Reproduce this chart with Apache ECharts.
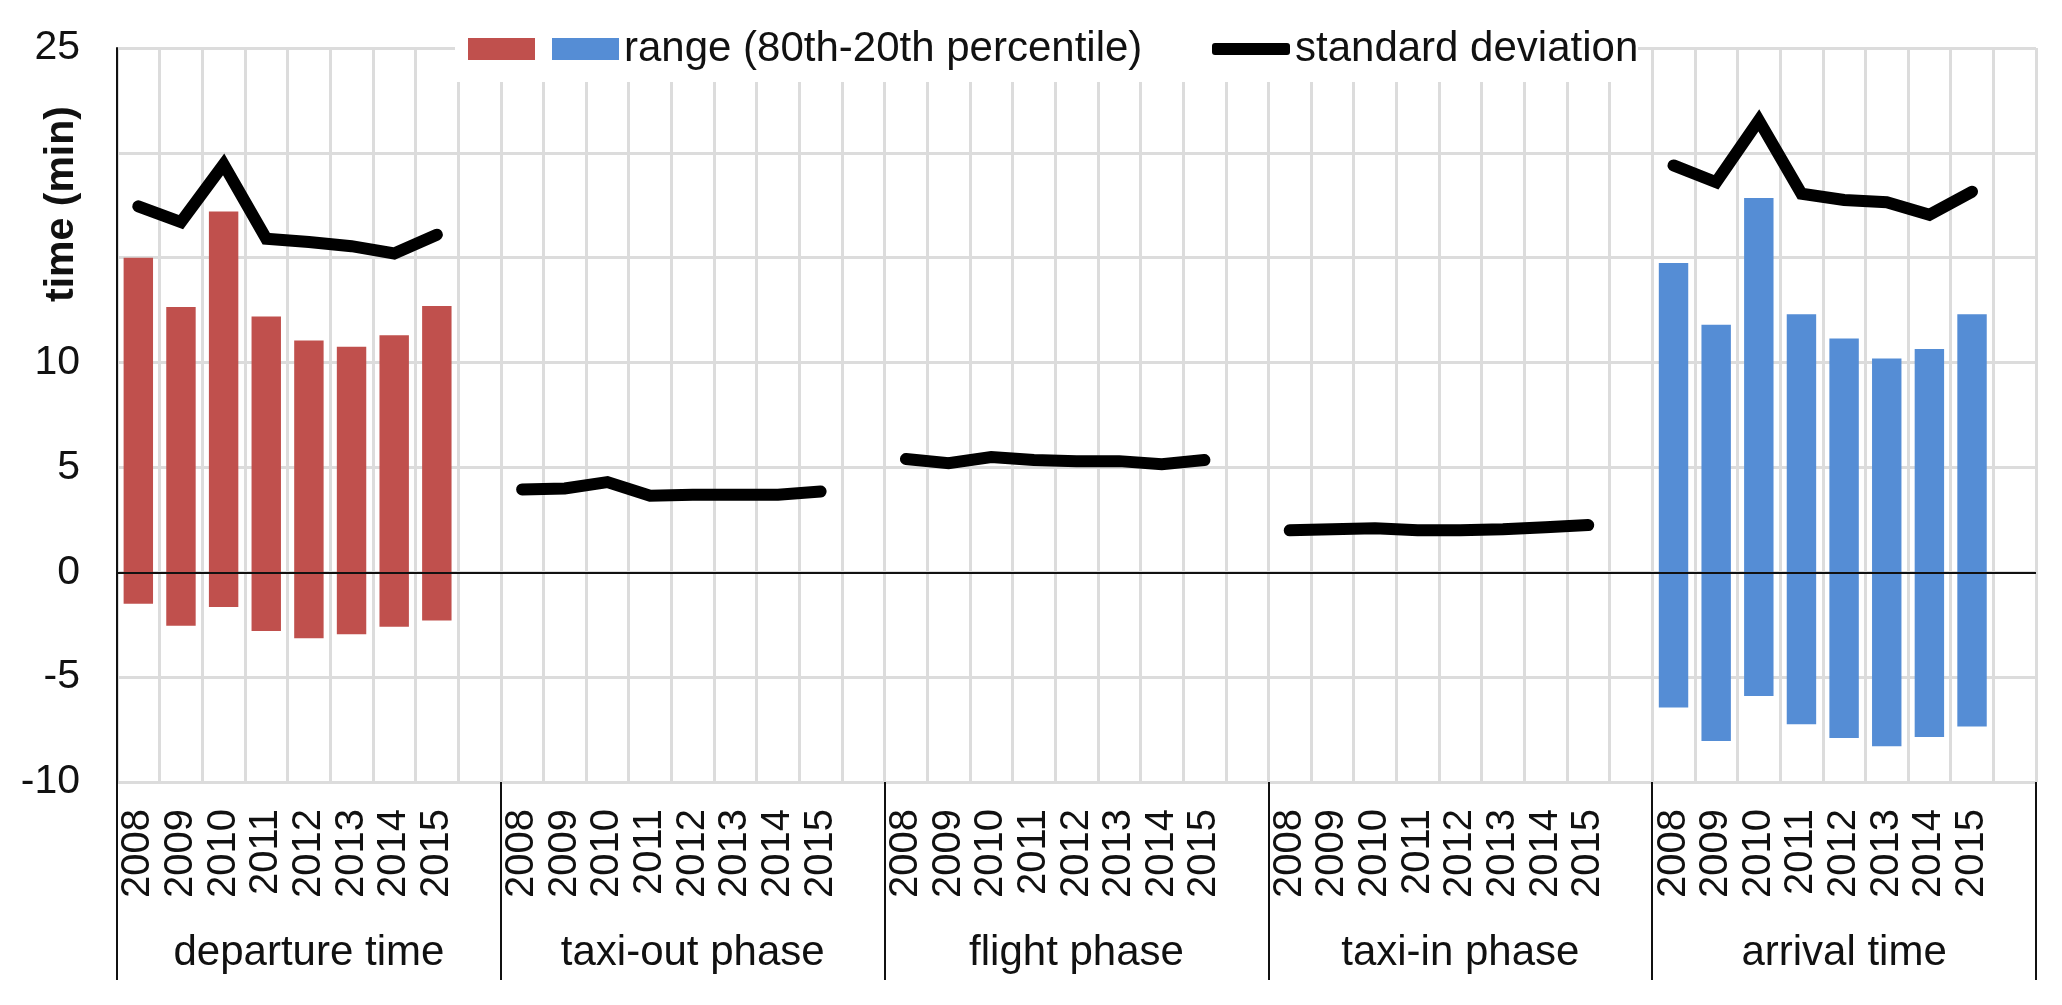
<!DOCTYPE html>
<html>
<head>
<meta charset="utf-8">
<script src="https://cdn.jsdelivr.net/npm/echarts@6/dist/echarts.min.js"></script>
<style>
html,body{margin:0;padding:0;background:#fff;}
#chart{width:2062px;height:1005px;}
</style>
</head>
<body>
<div id="chart"></div>
<script>
// ---- data ----
const years = ['2008','2009','2010','2011','2012','2013','2014','2015'];
const groups = ['departure time','taxi-out phase','flight phase','taxi-in phase','arrival time'];
const yTicks = [-10, -5, 0, 5, 10, 15, 20, 25];
const hiddenTicks = [15, 20];

const depHigh = [15.0, 12.65, 17.2, 12.2, 11.05, 10.75, 11.3, 12.7];
const depLow  = [-1.5, -2.55, -1.65, -2.8, -3.15, -2.95, -2.6, -2.3];
const arrHigh = [14.75, 11.8, 17.85, 12.3, 11.15, 10.2, 10.65, 12.3];
const arrLow  = [-6.45, -8.05, -5.9, -7.25, -7.9, -8.3, -7.85, -7.35];

const sdDeparture = [17.45, 16.7, 19.45, 15.9, 15.75, 15.55, 15.2, 16.1];
const sdTaxiOut   = [3.95, 4.0, 4.3, 3.65, 3.7, 3.7, 3.7, 3.85];
const sdFlight    = [5.4, 5.2, 5.5, 5.35, 5.3, 5.3, 5.15, 5.35];
const sdTaxiIn    = [2.0, 2.05, 2.1, 2.0, 2.0, 2.05, 2.15, 2.25];
const sdArrival   = [19.4, 18.6, 21.55, 18.05, 17.75, 17.65, 17.05, 18.15];

const legendRange = 'range (80th-20th percentile)';
const legendRangeDep = 'range (departure)';
const legendSd = 'standard deviation';

// ---- build slot arrays (each group: 8 years + one empty slot) ----
const slotsPerGroup = years.length + 1;
const categories = [];
groups.forEach(() => { years.forEach(y => categories.push(y)); categories.push(''); });

function place(groupIdx, vals) {
  const out = new Array(groups.length * slotsPerGroup).fill(null);
  vals.forEach((v, i) => { out[groupIdx * slotsPerGroup + i] = v; });
  return out;
}
const sdAll = new Array(groups.length * slotsPerGroup).fill(null);
[sdDeparture, sdTaxiOut, sdFlight, sdTaxiIn, sdArrival].forEach((arr, g) => {
  arr.forEach((v, i) => { sdAll[g * slotsPerGroup + i] = v; });
});

const RED = '#C0504D';
const BLUE = '#558DD5';
const FONT = '"Liberation Sans", Arial, sans-serif';
const GRID_COLOR = '#dcdcdc';

const chart = echarts.init(document.getElementById('chart'), null, {renderer: 'canvas'});

const barCommon = { type: 'bar', stack: 'range', barWidth: '69%', xAxisIndex: 0, yAxisIndex: 0 };

chart.setOption({
  animation: false,
  backgroundColor: '#fff',
  textStyle: { fontFamily: FONT },
  grid: { left: 117, right: 26, top: 48, bottom: 223, containLabel: false },
  graphic: [
    { type: 'rect', z: 3, shape: { x: 455, y: 26, width: 1183, height: 56 }, style: { fill: '#fff' } },
    { type: 'text', z: 5, x: 62, y: 204, rotation: Math.PI / 2,
      style: { text: 'time (min)', fontFamily: FONT, fontWeight: 'bold', fontSize: 41, fill: '#111', align: 'center', verticalAlign: 'middle' } }
  ],
  legend: [
    {
      data: [legendRangeDep, legendRange],
      left: 468, top: 28, padding: 0,
      itemWidth: 67, itemHeight: 22, itemGap: 12,
      icon: 'rect', selectedMode: false,
      formatter: name => (name === legendRangeDep ? '' : name),
      textStyle: { fontFamily: FONT, fontSize: 42, color: '#111', lineHeight: 40 }
    },
    {
      data: [legendSd],
      left: 1212, top: 28, padding: 0,
      itemWidth: 78, itemHeight: 12,
      icon: 'roundRect', selectedMode: false,
      itemStyle: { color: '#000' },
      textStyle: { fontFamily: FONT, fontSize: 42, color: '#111', lineHeight: 40 }
    }
  ],
  xAxis: [
    {
      type: 'category', data: categories, position: 'bottom',
      axisLine: { show: false, onZero: false },
      axisTick: { show: false },
      splitLine: { show: true, interval: 0, lineStyle: { color: GRID_COLOR, width: 3 } },
      axisLabel: { interval: 0, rotate: 90, margin: 27, fontSize: 40, color: '#111', fontFamily: FONT }
    },
    {
      type: 'category', data: groups, position: 'bottom', offset: 0,
      axisLine: { show: false, onZero: false },
      axisTick: { show: true, interval: 0, length: 198, lineStyle: { color: '#111', width: 2 } },
      splitLine: { show: false },
      axisLabel: { interval: 0, margin: 150, fontSize: 42, lineHeight: 42, color: '#111', fontFamily: FONT }
    }
  ],
  yAxis: {
    type: 'value', min: -10, max: 25, interval: 5,
    axisLine: { show: true, lineStyle: { color: '#111', width: 2 } },
    axisTick: { show: false },
    splitLine: { show: true, lineStyle: { color: GRID_COLOR, width: 3 } },
    axisLabel: {
      margin: 37, fontSize: 41, color: '#111', fontFamily: FONT,
      formatter: v => (yTicks.includes(v) && !hiddenTicks.includes(v) ? String(v) : '')
    }
  },
  series: [
    Object.assign({}, barCommon, { name: legendRangeDep, data: place(0, depHigh), itemStyle: { color: RED } }),
    Object.assign({}, barCommon, { name: legendRange, data: place(4, arrHigh), itemStyle: { color: BLUE } }),
    Object.assign({}, barCommon, { name: legendRangeDep + ' low', data: place(0, depLow), itemStyle: { color: RED } }),
    Object.assign({}, barCommon, { name: legendRange + ' low', data: place(4, arrLow), itemStyle: { color: BLUE },
      markLine: { silent: true, symbol: 'none', label: { show: false },
        lineStyle: { color: '#111', width: 2, type: 'solid' }, data: [{ yAxis: 0 }] } }),
    {
      name: legendSd, type: 'line', data: sdAll, xAxisIndex: 0, yAxisIndex: 0,
      connectNulls: false, symbol: 'none', z: 4,
      lineStyle: { color: '#000', width: 12, cap: 'round', join: 'miter' },
      itemStyle: { color: '#000' }
    }
  ]
});
</script>
</body>
</html>
